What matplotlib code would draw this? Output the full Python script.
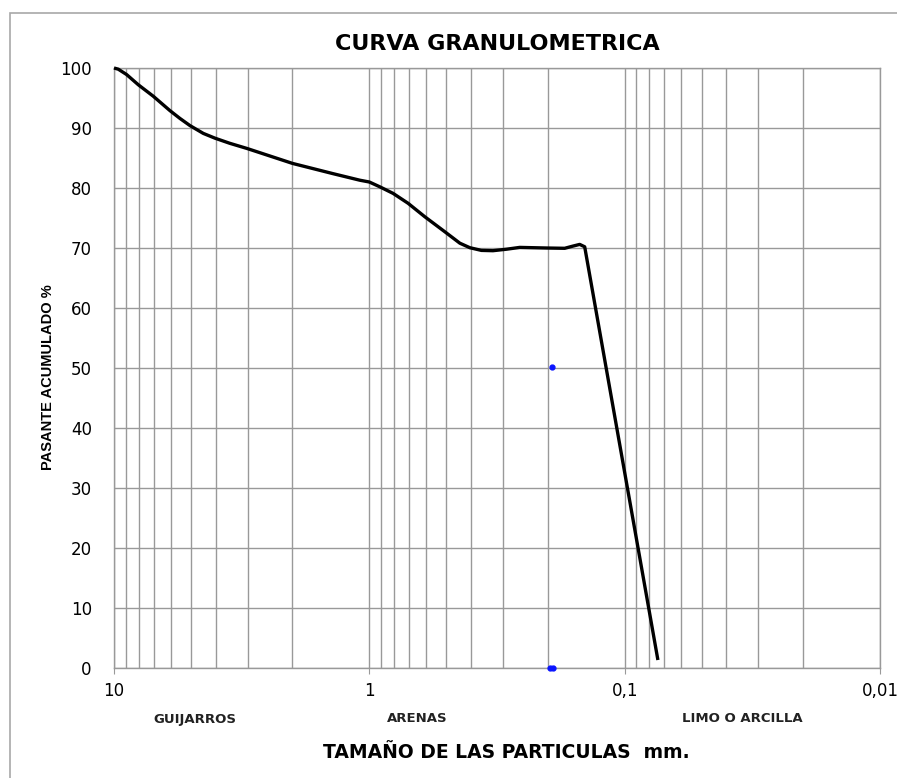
import matplotlib
matplotlib.use("Agg")
import matplotlib.pyplot as plt
from matplotlib.patches import Rectangle
from matplotlib.ticker import FixedLocator, FixedFormatter, NullFormatter

plt.rcParams['font.family'] = ['DejaVu Sans']

# === Curve (diameter mm, % passing) ===
diam = [10.0, 9.62, 8.92, 8.03, 7.02, 6.04, 5.52, 5.04, 4.47, 4.02, 3.52,
        3.02, 2.0, 1.39, 1.09, 1.0, 0.91, 0.807, 0.705, 0.606, 0.506, 0.442,
        0.404, 0.364, 0.328, 0.290, 0.2576, 0.2027, 0.1718, 0.160, 0.150,
        0.1434, 0.0741]
passing = [100.0, 99.8, 98.9, 97.2, 95.3, 92.9, 91.6, 90.4, 89.1, 88.3, 87.45,
           86.6, 84.1, 82.4, 81.3, 81.0, 80.2, 79.1, 77.45, 75.2, 72.7, 70.8,
           70.05, 69.6, 69.55, 69.8, 70.1, 70.0, 69.95, 70.3, 70.6,
           70.2, 1.33]

# blue markers
mark_d = [0.192, 0.19, 0.196]
mark_p = [50.2, 0.0, 0.0]

xticks = [10, 1, 0.1, 0.01]
xtick_labels = ["10", "1", "0,1", "0,01"]
yticks = list(range(0, 101, 10))
zones = ["GUIJARROS", "ARENAS", "LIMO O ARCILLA"]
zone_x = [195, 417, 742]

W, H = 897, 778
fig = plt.figure(figsize=(W / 100, H / 100), dpi=100)
ax = fig.add_axes([114 / W, 1 - 668 / H, (880 - 114) / W, (668 - 68) / H])

# outer chart-area frame (only top/left visible)
fig.patches.append(Rectangle((10 / W, -0.1), 1.2, 1 - 13 / H + 0.1,
                             transform=fig.transFigure, fill=False,
                             edgecolor="#a8a8a8", linewidth=1.2))

ax.set_xscale("log")
ax.set_xlim(10, 0.01)
ax.set_ylim(0, 100)

minor = []
for dec in [1, 0.1, 0.01]:
    minor += [dec * k for k in range(2, 10)]
ax.xaxis.set_major_locator(FixedLocator(xticks))
ax.xaxis.set_major_formatter(FixedFormatter(xtick_labels))
ax.xaxis.set_minor_locator(FixedLocator(minor))
ax.xaxis.set_minor_formatter(NullFormatter())
ax.set_yticks(yticks)

ax.grid(True, which="both", axis="x", color="#999999", linewidth=1.0)
ax.grid(True, which="major", axis="y", color="#999999", linewidth=1.0)
ax.set_axisbelow(True)

for s in ax.spines.values():
    s.set_color("#999999")
    s.set_linewidth(1.0)

ax.tick_params(axis="y", length=0, pad=16, labelsize=12, colors="black")
ax.tick_params(axis="x", which="major", length=4, color="#999999", pad=6,
               labelsize=12)
ax.tick_params(axis="x", which="minor", length=0)

ax.plot(diam, passing, color="black", linewidth=2.4, solid_capstyle="butt",
        solid_joinstyle="round", zorder=3, clip_on=False)
ax.plot(mark_d, mark_p, "o", color="#0a14ff", markersize=3.5, zorder=4,
        clip_on=False)

fig.text(497 / W, 1 - 44 / H, "CURVA GRANULOMETRICA", ha="center",
         va="center", fontsize=16, fontweight="bold")
for lab, zx in zip(zones, zone_x):
    fig.text(zx / W, 1 - 719 / H, lab, ha="center", va="center",
             fontsize=9.5, fontweight="bold", color="#222222")
fig.text(506 / W, 1 - 752 / H, "TAMAÑO DE LAS PARTICULAS  mm.", ha="center",
         va="center", fontsize=13.5, fontweight="bold")
fig.text(48 / W, 1 - 377 / H, "PASANTE ACUMULADO %", ha="center",
         va="center", rotation=90, fontsize=10.5, fontweight="bold",
         family=["Liberation Sans Narrow", "Liberation Sans", "DejaVu Sans"])

fig.savefig("out.png", dpi=100)
